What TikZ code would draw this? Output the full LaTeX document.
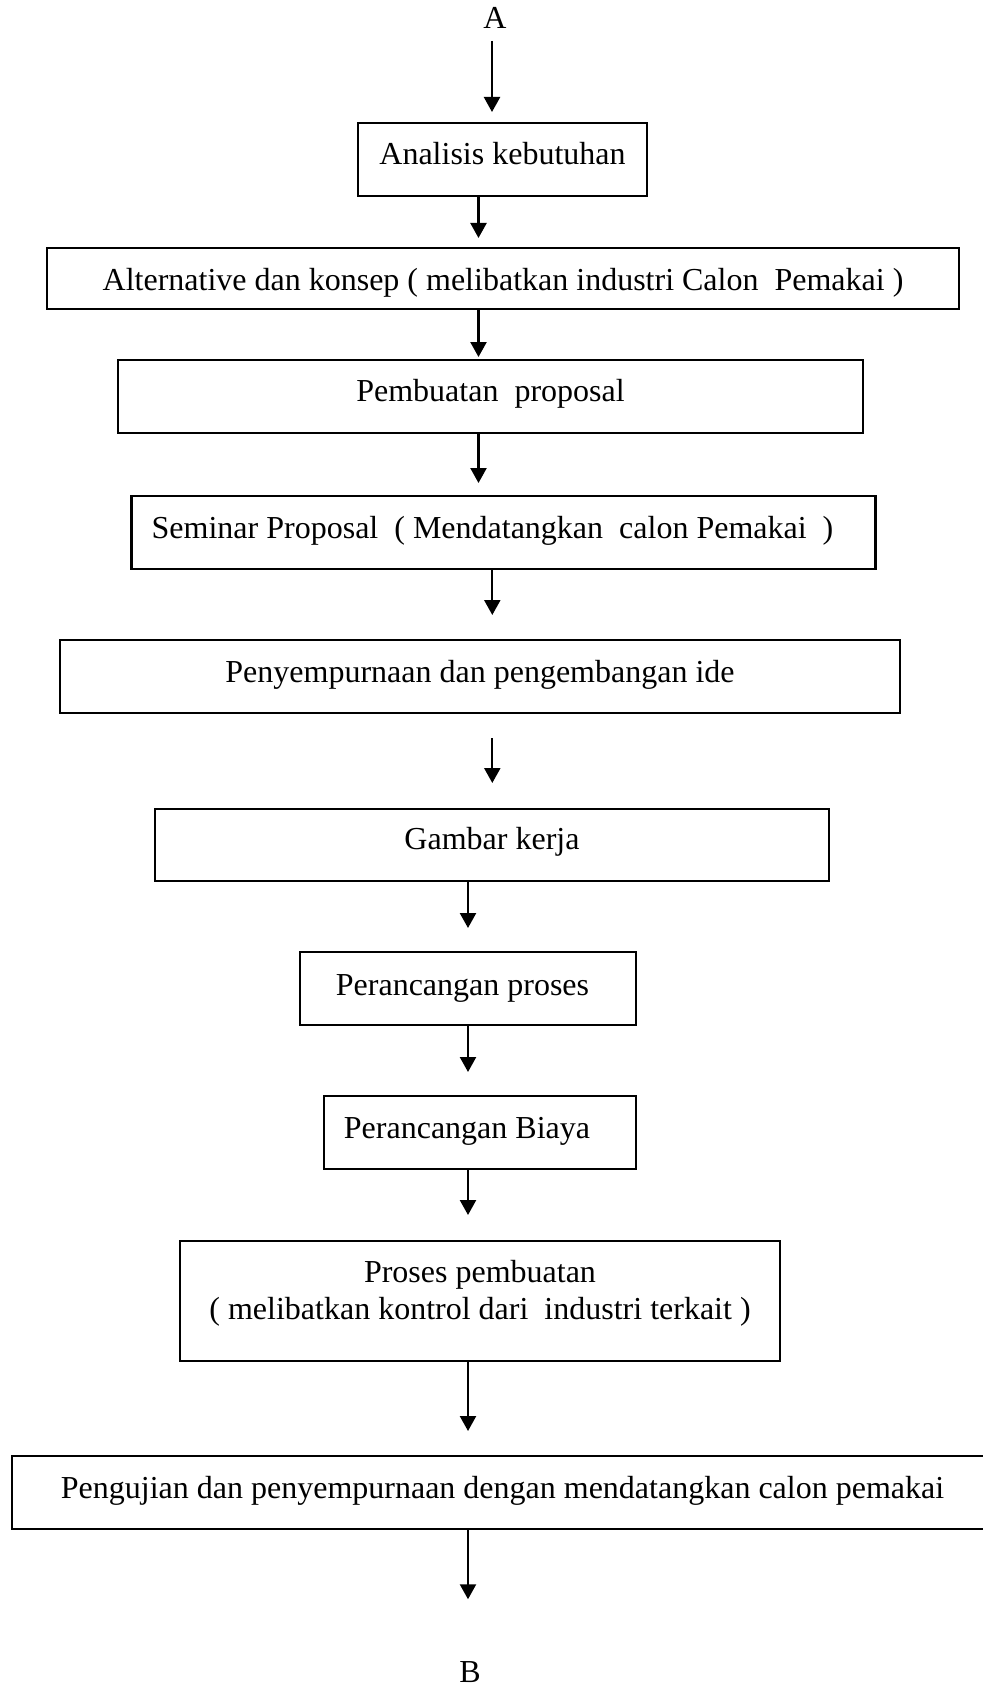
\documentclass[tikz,border=0pt]{standalone}
\usepackage{fontspec}
\setmainfont{Liberation Serif}
\usetikzlibrary{arrows.meta}
\begin{document}
\begin{tikzpicture}[x=1pt,y=-1pt,
  box/.style={draw, line width=2.3pt, rectangle, inner sep=0pt, outer sep=0pt,
    anchor=north, text height=42pt, font=\fontsize{32}{37.5}\selectfont},
  lbl/.style={inner sep=0pt, outer sep=0pt, anchor=base, font=\fontsize{32}{37.5}\selectfont},
  arr/.style={line width=2.3pt, -{Triangle[length=15pt,width=16pt]}}]
\useasboundingbox (0,0) rectangle (982,1688);
% column coordinates for the connectors
\coordinate (c0) at (492,0);
\coordinate (c1) at (478.5,0);
\coordinate (c4) at (492.3,0);
\coordinate (c6) at (468,0);

\node[lbl] (A) at (495,28.3) {A};
\node[box, minimum width=289pt, text depth=31pt] (b1) at (502.5,123) {Analisis kebutuhan};
\node[box, minimum width=912pt, text depth=19pt] (b2) at (503,248) {Alternative dan konsep ( melibatkan industri Calon\ \ Pemakai )};
\node[box, minimum width=745pt, text height=41pt, text depth=32pt] (b3) at (490.5,360) {Pembuatan\ \ proposal};
\node[box, minimum width=744pt, text depth=31pt] (b4) at (503.5,496) {Seminar Proposal\ \ ( Mendatangkan\ \ calon Pemakai\ \ )\hspace*{22pt}};
\node[box, minimum width=840pt, text depth=31pt] (b5) at (480,640) {Penyempurnaan dan pengembangan ide};
\node[box, minimum width=674pt, text height=40pt, text depth=32pt] (b6) at (492,809) {Gambar kerja};
\node[box, minimum width=336pt, text height=43pt, text depth=30pt] (b7) at (468,952) {Perancangan proses\hspace*{11pt}};
\node[box, minimum width=312pt, text depth=31pt] (b8) at (480,1096) {Perancangan Biaya\hspace*{26pt}};
\node[box, minimum width=600pt, text height=41pt, text depth=79pt] (b9) at (480,1241)
  {\begin{tabular}[t]{@{}c@{}}Proses pembuatan\\( melibatkan kontrol dari\ \ industri terkait )\end{tabular}};
\node[box, minimum width=981pt, text depth=31pt] (b10) at (502.5,1456) {Pengujian dan penyempurnaan dengan mendatangkan calon pemakai};
\node[lbl] (B) at (470,1682) {B};

\draw[arr, shorten <=12.7pt, shorten >=11pt] (A.base -| c0) -- (b1.north -| c0);
\draw[arr, shorten >=10pt] (b1.south -| c1) -- (b2.north -| c1);
\draw[arr, shorten >=3pt] (b2.south -| c1) -- (b3.north -| c1);
\draw[arr, shorten >=13pt] (b3.south -| c1) -- (b4.north -| c1);
\draw[arr, shorten >=25pt] (b4.south -| c4) -- (b5.north -| c4);
\draw[arr, shorten <=25pt, shorten >=26pt] (b5.south -| c4) -- (b6.north -| c4);
\draw[arr, shorten >=24pt] (b6.south -| c6) -- (b7.north -| c6);
\draw[arr, shorten >=24pt] (b7.south -| c6) -- (b8.north -| c6);
\draw[arr, shorten >=26pt] (b8.south -| c6) -- (b9.north -| c6);
\draw[arr, shorten >=25pt] (b9.south -| c6) -- (b10.north -| c6);
\draw[arr, shorten >=61.8pt] (b10.south -| c6) -- (B.north -| c6);
\end{tikzpicture}
\end{document}
